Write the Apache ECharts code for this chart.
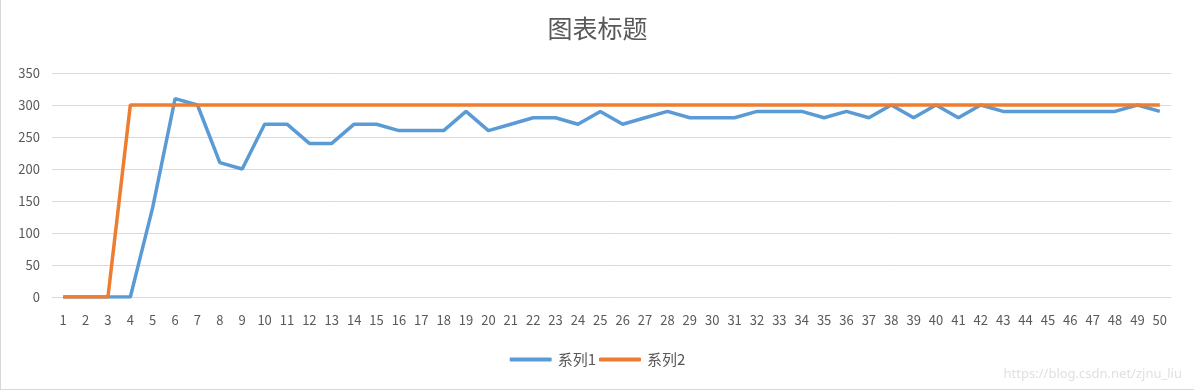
<!DOCTYPE html>
<html>
<head>
<meta charset="utf-8">
<script src="https://cdn.jsdelivr.net/npm/echarts@6/dist/echarts.min.js"></script>
<style>
html,body{margin:0;padding:0;background:#fff;}
#c{width:1194px;height:390px;box-sizing:border-box;border-left:1px solid #d9d9d9;border-bottom:1px solid #d9d9d9;}
</style>
</head>
<body>
<div id="c"></div>
<script>
const categories = Array.from({length: 50}, (_, i) => String(i + 1));
const series1 = [0,0,0,0,140,310,300,210,200,270,270,240,240,270,270,260,260,260,290,260,270,280,280,270,290,270,280,290,280,280,280,290,290,290,280,290,280,300,280,300,280,300,290,290,290,290,290,290,300,290];
const series2 = [0,0,0,300,300,300,300,300,300,300,300,300,300,300,300,300,300,300,300,300,300,300,300,300,300,300,300,300,300,300,300,300,300,300,300,300,300,300,300,300,300,300,300,300,300,300,300,300,300,300];
const yTicks = [0,50,100,150,200,250,300,350];
const seriesNames = ['系列1','系列2'];

const chart = echarts.init(document.getElementById('c'));
const font = '"Noto Sans CJK SC", "Noto Sans", sans-serif';
chart.setOption({
  animation: false,
  title: {
    text: '图表标题', left: 'center', top: 11,
    textStyle: {fontFamily: font, fontSize: 25, fontWeight: 'normal', color: '#595959'}
  },
  legend: {
    bottom: 17, left: 'center', itemWidth: 42, itemHeight: 4, itemGap: 3,
    icon: 'roundRect',
    textStyle: {fontFamily: font, fontSize: 15, color: '#595959', padding: [0, 0, 0, 1]},
    data: seriesNames
  },
  graphic: [{
    type: 'text', right: 12, bottom: 8,
    style: {text: 'https://blog.csdn.net/zjnu_liu', fill: '#e0e0e0', font: '13px "Noto Sans", sans-serif'}
  }],
  grid: {left: 51, right: 23, top: 73, bottom: 92},
  xAxis: {
    type: 'category', data: categories, boundaryGap: true,
    axisLine: {show: true, lineStyle: {color: '#d9d9d9'}},
    axisTick: {show: false},
    axisLabel: {interval: 0, color: '#595959', fontSize: 13, fontFamily: font, margin: 17}
  },
  yAxis: {
    type: 'value', min: yTicks[0], max: yTicks[yTicks.length-1], interval: 50,
    axisLine: {show: false}, axisTick: {show: false},
    splitLine: {lineStyle: {color: '#d9d9d9'}},
    axisLabel: {color: '#595959', fontSize: 13, fontFamily: font, margin: 12}
  },
  series: [
    {name: seriesNames[0], type: 'line', data: series1, symbol: 'none', lineStyle: {width: 3.5, color: '#5B9BD5'}, itemStyle: {color: '#5B9BD5'}},
    {name: seriesNames[1], type: 'line', data: series2, symbol: 'none', lineStyle: {width: 3.5, color: '#ED7D31'}, itemStyle: {color: '#ED7D31'}}
  ]
});
</script>
</body>
</html>
